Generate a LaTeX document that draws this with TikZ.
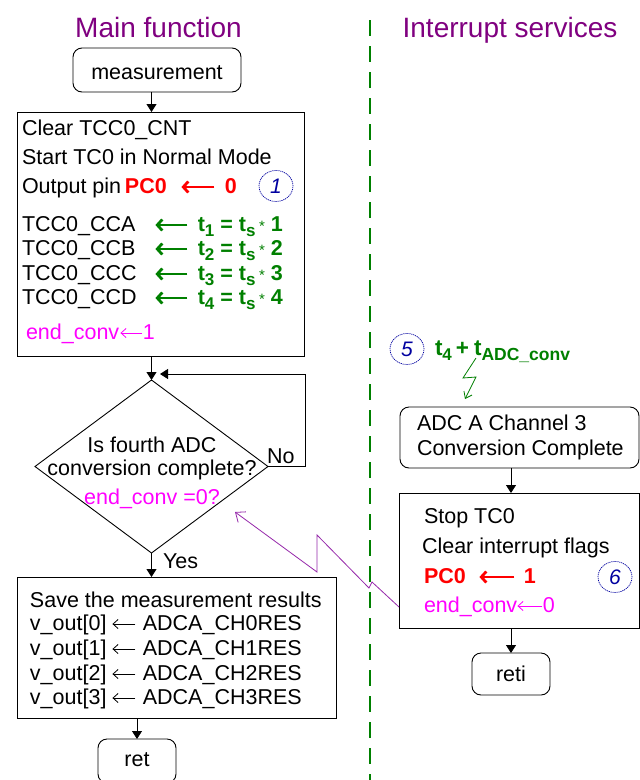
\documentclass[tikz,border=0pt]{standalone}
\usepackage{fontspec}
\setmainfont{Liberation Sans}
\usetikzlibrary{arrows.meta,shapes.geometric}
\definecolor{ttlc}{RGB}{128,0,128}
\definecolor{grnc}{RGB}{0,128,0}
\definecolor{magc}{RGB}{255,0,255}
\definecolor{redc}{RGB}{255,0,0}
\definecolor{bluc}{RGB}{0,0,160}
\definecolor{pplc}{RGB}{150,40,170}
\newcommand\thinarr[1]{\tikz[x=1pt,y=1pt,baseline=-6pt]\draw[line width=0.8pt,-{Straight Barb[length=5pt,width=9pt]}] (#1,0)--(0,0);}
\newcommand\boldarr[2]{\tikz[x=1pt,y=1pt,baseline=-6pt]\draw[#2,line width=2.8pt,-{Straight Barb[length=5pt,width=11pt]}] (#1,0)--(0,0);}
\newcommand\sbx[1]{\raisebox{-5pt}{\fontsize{17}{17}\selectfont\bfseries #1}}
\newcommand\smast{{\mdseries\fontsize{15}{15}\selectfont *}}
\begin{document}
\begin{tikzpicture}[x=1pt,y=-1pt,
  every node/.style={inner sep=0pt,outer sep=0pt},
  txt/.style={anchor=base west,font=\fontsize{21.5}{21.5}\selectfont},
  ctxt/.style={anchor=base,font=\fontsize{21.5}{21.5}\selectfont},
  ttl/.style={anchor=base,text=ttlc,font=\fontsize{28}{28}\selectfont},
  procbox/.style={draw,line width=0.9pt},
  termbox/.style={draw,line width=0.9pt,rounded corners=9pt},
  flow/.style={line width=0.9pt,-{Triangle[length=8pt,width=10pt]}},
  circ/.style={draw=bluc,ellipse,line width=0.7pt,dash pattern=on 1.2pt off 0.8pt,text=bluc,font=\fontsize{21}{21}\selectfont\itshape,minimum width=34pt,minimum height=31pt}
]
\useasboundingbox (0,0) rectangle (640,780);
\fill[white] (0,0) rectangle (640,780);
% separator
\draw[grnc,line width=2.6pt,dash pattern=on 16pt off 10pt] (370,20) -- (370,780);
% titles
\node[ttl] (tmain) at (158.5,37) {Main function};
\node[ttl] (tirq) at (510,37) {Interrupt services};
% main column
\node[termbox,minimum width=168pt,minimum height=44pt] (meas) at (157,70) {};
\node[ctxt] (meast) at (157,79) {measurement};
\node[procbox,minimum width=287pt,minimum height=244pt] (setup) at (160.5,234) {};
\node[txt] (s1) at (22,135) {Clear TCC0\_CNT};
\node[txt] (s2) at (22,164) {Start TC0 in Normal Mode};
\node[txt] (s3) at (22,193) {\makebox[103pt][l]{Output pin}\makebox[55pt][l]{\color{redc}\bfseries PC0}\boldarr{33pt}{redc}\hspace{9pt}{\color{redc}\bfseries 0}};
\node[circ] (c1) at (276,186) {1};
\node[txt] (s4) at (22,231) {\makebox[132pt][l]{TCC0\_CCA}\boldarr{32pt}{grnc}\hspace{9pt}{\color{grnc}\bfseries t\sbx{1} = t\sbx{s}\,\smast\ 1}};
\node[txt] (s5) at (22,255) {\makebox[132pt][l]{TCC0\_CCB}\boldarr{32pt}{grnc}\hspace{9pt}{\color{grnc}\bfseries t\sbx{2} = t\sbx{s}\,\smast\ 2}};
\node[txt] (s6) at (22,280) {\makebox[132pt][l]{TCC0\_CCC}\boldarr{32pt}{grnc}\hspace{9pt}{\color{grnc}\bfseries t\sbx{3} = t\sbx{s}\,\smast\ 3}};
\node[txt] (s7) at (22,304) {\makebox[132pt][l]{TCC0\_CCD}\boldarr{32pt}{grnc}\hspace{9pt}{\color{grnc}\bfseries t\sbx{4} = t\sbx{s}\,\smast\ 4}};
\node[txt,text=magc] (s8) at (26,339) {\makebox[94pt][l]{end\_conv}\color{magc}\thinarr{22pt}1};
% decision
\node[draw,diamond,line width=0.9pt,minimum width=233pt,minimum height=173pt] (dec) at (151.5,466.5) {};
\node[ctxt] (d1) at (152,452) {Is fourth ADC};
\node[ctxt] (d2) at (152,475) {conversion complete?};
\node[ctxt,text=magc] (d3) at (152,504) {end\_conv =0?};
\node[txt] (no) at (267,463) {No};
\node[txt] (yes) at (163,568) {Yes};
\coordinate (loopin) at (160,374);
\draw[flow] (meas.south -| dec.north) -- (setup.north -| dec.north);
\draw[flow] (setup.south -| dec.north) -- (dec.north);
\draw[flow] (dec.east) -- ++(37,0) |- (loopin);
% save box
\node[procbox,minimum width=319pt,minimum height=141pt] (save) at (176.5,647.5) {};
\node[txt] (v0) at (30,607) {Save the measurement results};
\node[txt] (v1) at (30,630) {\makebox[82pt][l]{v\_out[0]}\thinarr{23pt}\hspace{7pt}ADCA\_CH0RES};
\node[txt] (v2) at (30,655) {\makebox[82pt][l]{v\_out[1]}\thinarr{23pt}\hspace{7pt}ADCA\_CH1RES};
\node[txt] (v3) at (30,680) {\makebox[82pt][l]{v\_out[2]}\thinarr{23pt}\hspace{7pt}ADCA\_CH2RES};
\node[txt] (v4) at (30,704) {\makebox[82pt][l]{v\_out[3]}\thinarr{23pt}\hspace{7pt}ADCA\_CH3RES};
\draw[flow] (dec.south) -- (save.north -| dec.south);
\node[termbox,minimum width=78pt,minimum height=44pt] (ret) at (137,761) {};
\node[ctxt] (rett) at (137,766) {ret};
\draw[flow] (save.south -| ret.north) -- (ret.north);
% interrupt column
\node[circ] (c5) at (407,349) {5};
\node[anchor=base west,text=grnc,font=\fontsize{22.5}{22.5}\selectfont\bfseries] (tadc) at (435,355) {t\sbx{4}\hspace{4pt}+\hspace{5pt}t\raisebox{-5pt}{\fontsize{17.5}{17.5}\selectfont\bfseries ADC\_conv}};
\coordinate (bolt) at (476,358);
\coordinate (bolttip) at (465,399);
\draw[grnc,line width=0.8pt,-{Straight Barb[length=6pt,width=9pt]}] (bolt) -- (463,378) -- (476,377) -- (bolttip);
\node[termbox,minimum width=239pt,minimum height=61pt] (adc) at (519.5,437.5) {};
\node[txt] (a1) at (417,430) {ADC A Channel 3};
\node[txt] (a2) at (417,455) {Conversion Complete};
\node[procbox,minimum width=240pt,minimum height=135pt] (stop) at (519,560.5) {};
\node[txt] (r1) at (424,523) {Stop TC0};
\node[txt] (r2) at (422,553) {Clear interrupt flags};
\node[txt] (r3) at (424,583) {\makebox[54pt][l]{\color{redc}\bfseries PC0}\boldarr{35pt}{redc}\hspace{8pt}{\color{redc}\bfseries 1}};
\node[circ] (c6) at (615,577) {6};
\node[txt,text=magc] (r4) at (424,612) {\makebox[93pt][l]{end\_conv}\color{magc}\thinarr{25pt}0};
\node[termbox,minimum width=78pt,minimum height=42pt] (reti) at (511,674) {};
\node[ctxt] (retit) at (511,681) {reti};
\draw[flow] (adc.south -| reti.north) -- (stop.north -| reti.north);
\draw[flow] (stop.south -| reti.north) -- (reti.north);
% interrupt link
\coordinate (irqsrc) at (399,607);
\coordinate (irqdst) at (235,512);
\draw[pplc,line width=0.8pt,-{Straight Barb[length=8pt,width=13pt]}] (irqsrc) -- (372,582) -- (369,588) -- (317,535) -- (317,572) -- (irqdst);
\end{tikzpicture}
\end{document}
